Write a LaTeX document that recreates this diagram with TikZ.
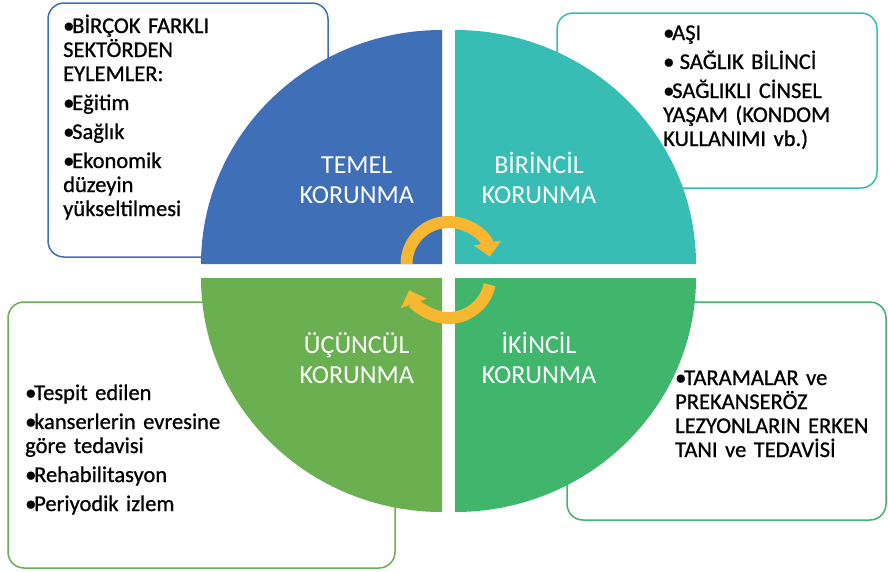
\documentclass[tikz,border=0pt]{standalone}
\usepackage{fontspec}
\setmainfont{Carlito}
\newfontfamily\boxfont{Carlito}[FakeBold=0.8]
\usetikzlibrary{arrows.meta}

\definecolor{qblue}{RGB}{63,111,183}
\definecolor{qteal}{RGB}{56,189,180}
\definecolor{qgreenl}{RGB}{106,175,80}
\definecolor{qgreenr}{RGB}{64,182,108}
\definecolor{arrowor}{RGB}{247,183,49}

% one bullet paragraph, later lines hang under the text
\newcommand{\bitem}[1]{\hangindent=8pt\hangafter=1\noindent\makebox[9pt][l]{•}#1\par}

\begin{document}
\begin{tikzpicture}[x=1pt,y=-1pt,
  infobox/.style={line width=1.5pt,rounded corners=16pt,fill=white},
  infotext/.style={anchor=base west,inner sep=0pt,text width=#1,align=left,
    font=\boxfont\fontsize{22.5}{24}\selectfont,execute at begin node={\setlength{\parskip}{5pt}}},
  quartlabel/.style={anchor=base,inner sep=0pt,text width=150pt,align=center,
    text=white,font=\fontsize{26}{30}\selectfont},
  turnarrow/.style={line width=12pt,draw=arrowor,-{Triangle[width=27pt,length=14pt]}}]
\useasboundingbox[fill=white] (0,0) rectangle (888,571);

% the four boxes behind the circle
\draw[infobox,draw=qblue] (48,3) rectangle (328,257);
\draw[infobox,draw=qteal] (557,13) rectangle (877,188);
\draw[infobox,draw=qgreenl] (8,302) rectangle (395,568);
\draw[infobox,draw=qgreenr] (567,302) rectangle (886,520);

% the four quarters
\fill[qblue] (442,264) -- (201,264) arc[start angle=180,end angle=270,x radius=241,y radius=234] -- cycle;
\fill[qteal] (455,264) -- (696,264) arc[start angle=0,end angle=-90,x radius=241,y radius=234] -- cycle;
\fill[qgreenl] (442,278) -- (201,278) arc[start angle=180,end angle=90,x radius=241,y radius=234] -- cycle;
\fill[qgreenr] (455,278) -- (696,278) arc[start angle=0,end angle=90,x radius=241,y radius=234] -- cycle;

% turning arrows in the middle
\draw[turnarrow] (406.5,264) arc[start angle=180,end angle=350,radius=42];
\draw[turnarrow] (489.6,284.7) arc[start angle=12,end angle=160,radius=42];

\node[quartlabel] (temel) at (356.7,173) {TEMEL\\KORUNMA};
\node[quartlabel] (birincil) at (539,173) {BİRİNCİL\\KORUNMA};
\node[quartlabel] (ucuncul) at (356.7,353) {ÜÇÜNCÜL\\KORUNMA};
\node[quartlabel] (ikincil) at (539,353) {İKİNCİL\\KORUNMA};

\node[infotext=250pt] (temeltext) at (63,33)
  {\bitem{BİRÇOK FARKLI\\SEKTÖRDEN\\EYLEMLER:}\bitem{Eğitim}\bitem{Sağlık}\bitem{Ekonomik\\düzeyin\\yükseltilmesi}};
\node[infotext=210pt] (birinciltext) at (663,40)
  {\bitem{AŞI}\bitem{\ SAĞLIK BİLİNCİ}\bitem{SAĞLIKLI CİNSEL\\YAŞAM (KONDOM\\KULLANIMI vb.)}};
\node[infotext=300pt] (ucuncultext) at (25,400)
  {\bitem{Tespit edilen}\bitem{kanserlerin evresine\\göre tedavisi}\bitem{Rehabilitasyon}\bitem{Periyodik izlem}};
\node[infotext=205pt] (ikinciltext) at (675,385)
  {\bitem{TARAMALAR ve\\PREKANSERÖZ\\LEZYONLARIN ERKEN\\TANI ve TEDAVİSİ}};
\end{tikzpicture}
\end{document}
